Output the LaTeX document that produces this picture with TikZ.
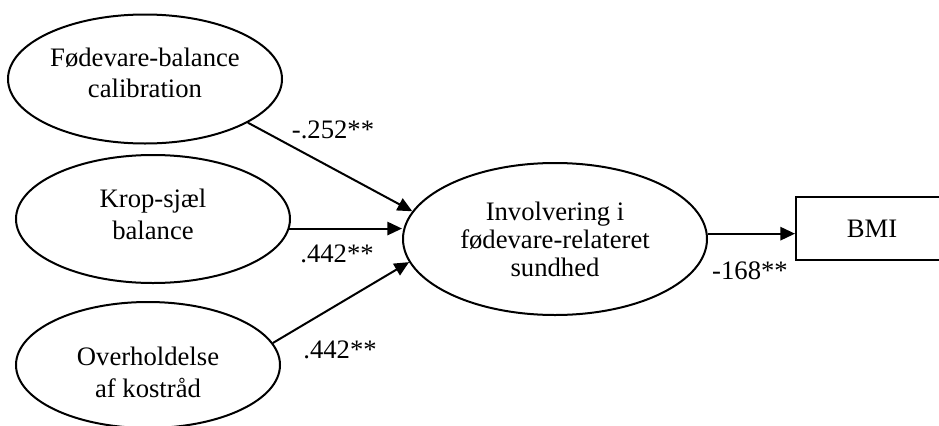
\documentclass[tikz,border=0pt]{standalone}
\usepackage{fontspec}
\setmainfont{Liberation Serif}
\usetikzlibrary{arrows.meta,shapes.geometric}
\tikzset{
  latent/.style={draw, ellipse, line width=1.5pt, inner sep=0pt, align=center, font=\fontsize{20}{23.5}\selectfont},
  observed/.style={draw, rectangle, line width=1.5pt, inner sep=0pt, font=\fontsize{20}{24}\selectfont},
  pre/.style={-{Triangle[length=11pt,width=10pt]}, line width=1.5pt},
  lbl/.style={font=\fontsize{20}{24}\selectfont},
}

\begin{document}
\begin{tikzpicture}[x=0.75pt,y=-0.75pt]
\useasboundingbox (0,0) rectangle (939,425);
% predictors
\node[latent, minimum width=205.5pt, minimum height=96.75pt, text depth=9.8pt] (fb) at (145,79) {Fødevare-balance\\calibration};
\node[latent, minimum width=205.5pt, minimum height=96pt, text depth=7pt] (ks) at (153,219) {Krop-sjæl\\balance};
\node[latent, minimum width=198pt, minimum height=94.5pt, text depth=0pt, text height=48pt] (ok) at (148,365) {Overholdelse\\af kostråd};
% mediator and outcome
\node[latent, minimum width=228pt, minimum height=114pt, font=\fontsize{20}{21}\selectfont] (inv) at (555,239) {Involvering i\\fødevare-relateret\\sundhed};
\node[observed, minimum width=114pt, minimum height=47.25pt] (bmi) at (872,228.5) {BMI};
% paths
\draw[pre] (fb.-23) -- (inv.169);
\draw[pre] (ks.-4) -- (ks.-4 -| inv.west);
\draw[pre] (ok.10) -- (inv.-171);
\draw[pre] (inv.2) -- (inv.2 -| bmi.west);
% coefficients
\node[lbl] (c1) at (333,130) {-.252**};
\node[lbl] (c2) at (337,254) {.442**};
\node[lbl] (c3) at (340,350) {.442**};
\node[lbl] (c4) at (750,271) {-168**};
\end{tikzpicture}
\end{document}
